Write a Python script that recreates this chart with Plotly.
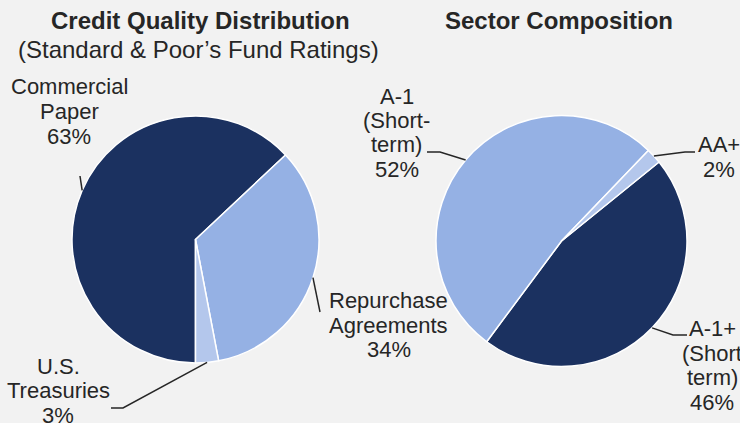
import math
import plotly.graph_objects as go

W, H = 740, 423

# ---- data ----
left_labels = [["Commercial", "Paper"], ["Repurchase", "Agreements"], ["U.S.", "Treasuries"]]
left_values = [63, 34, 3]
right_labels = [["A-1+", "(Short", "term)"], ["A-1", "(Short-", "term)"], ["AA+"]]
right_values = [46, 52, 2]
left_title = "<b>Credit Quality Distribution</b>"
left_subtitle = "(Standard &amp; Poor\u2019s Fund Ratings)"
right_title = "<b>Sector Composition</b>"

# ---- styles ----
BG = "#f2f2f2"
DARK = "#1b3160"
MID = "#95b1e4"
LIGHT = "#b4c7ec"
TXT = "#262626"
FONT = "Arial, Liberation Sans, sans-serif"
left_colors = [DARK, MID, LIGHT]
right_colors = [DARK, MID, LIGHT]
LABEL_SIZE = 22
LINE_STEP = 24.5


def px_x(x):
    return x / W


def px_y(y):
    return 1 - y / H


# pie geometry in pixels (center, radius), rotation
L = dict(cx=195.5, cy=239.5, r=123.5, rot=180)
R = dict(cx=561.5, cy=241.0, r=125.5, rot=51)


def domain(g):
    return dict(x=[px_x(g["cx"] - g["r"]), px_x(g["cx"] + g["r"])],
                y=[px_y(g["cy"] + g["r"]), px_y(g["cy"] - g["r"])])


def mid_points(g, values):
    tot = sum(values)
    cur = g["rot"]
    pts = []
    for v in values:
        ang = cur + 360 * v / tot / 2
        a = math.radians(ang)
        pts.append((g["cx"] + g["r"] * math.sin(a), g["cy"] - g["r"] * math.cos(a)))
        cur += 360 * v / tot
    return pts


fig = go.Figure()
fig.add_trace(go.Pie(labels=[" ".join(l) for l in left_labels], values=left_values, sort=False,
                     direction="clockwise", rotation=L["rot"], textinfo="none",
                     hoverinfo="label+percent", showlegend=False,
                     marker=dict(colors=left_colors, line=dict(color="white", width=1.5)),
                     domain=domain(L)))
fig.add_trace(go.Pie(labels=[" ".join(l) for l in right_labels], values=right_values, sort=False,
                     direction="clockwise", rotation=R["rot"], textinfo="none",
                     hoverinfo="label+percent", showlegend=False,
                     marker=dict(colors=right_colors, line=dict(color="white", width=1.5)),
                     domain=domain(R)))

annotations = []


def ann(text, x, y, size=LABEL_SIZE):
    annotations.append(dict(text=text, x=px_x(x), y=px_y(y), xref="paper", yref="paper",
                            showarrow=False, xanchor="center", yanchor="middle",
                            align="center", font=dict(family=FONT, size=size, color=TXT)))


ann(left_title, 200, 21, 24)
ann(left_subtitle, 199, 50, 24)
ann(right_title, 559, 21, 24)

# label positions (pixels): x center, y center of first line
left_pos = [(69, 87), (389, 300.5), (58, 366)]
right_pos = [(712, 328.5), (397, 96), (719, 145)]
for labs, vals, poss in ((left_labels, left_values, left_pos),
                         (right_labels, right_values, right_pos)):
    for lines, v, (x, y0) in zip(labs, vals, poss):
        for i, t in enumerate(lines + [f"{v}%"]):
            ann(t, x, y0 + i * LINE_STEP)

# leader lines: from slice mid-edge to elbows
left_elbows = [[(80, 176)], [(320, 312)], [(123, 408), (111, 408)]]
right_elbows = [[(673, 335), (687, 335)], [(440, 152), (427, 152)], [(685, 152), (695, 152)]]
shapes = []
for pts, elbows in ((mid_points(L, left_values), left_elbows),
                    (mid_points(R, right_values), right_elbows)):
    for p, el in zip(pts, elbows):
        seq = [p] + el
        path = "M " + " L ".join(f"{px_x(x):.5f},{px_y(y):.5f}" for x, y in seq)
        shapes.append(dict(type="path", path=path, xref="paper", yref="paper",
                           line=dict(color=TXT, width=1.5)))

fig.update_layout(width=W, height=H, margin=dict(l=0, r=0, t=0, b=0),
                  paper_bgcolor=BG, plot_bgcolor=BG,
                  font=dict(family=FONT, color=TXT),
                  annotations=annotations, shapes=shapes)

fig.write_html("out.html", config={"displayModeBar": False})

# remove default page margin so the figure fills the window exactly
with open("out.html", encoding="utf-8") as f:
    html = f.read()
html = html.replace("<body>", '<body style="margin:0;overflow:hidden">', 1)
with open("out.html", "w", encoding="utf-8") as f:
    f.write(html)
